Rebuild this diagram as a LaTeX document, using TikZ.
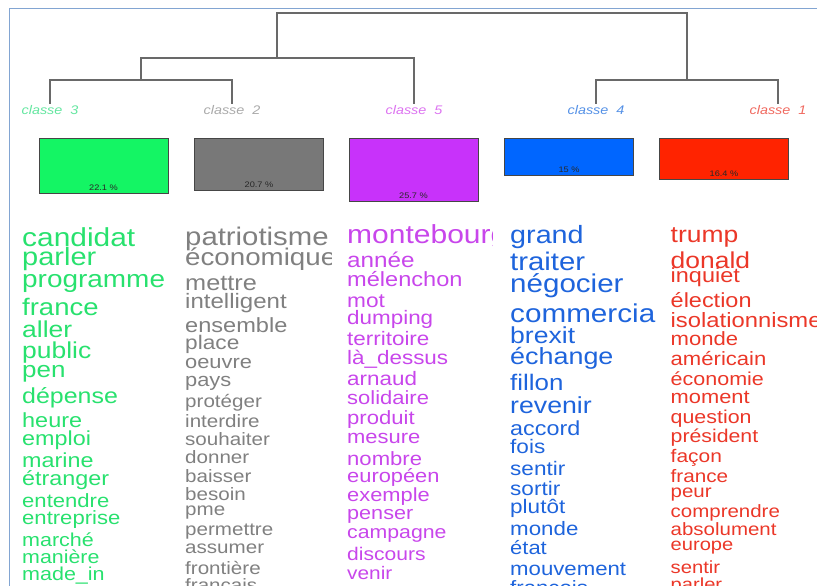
\documentclass[tikz,border=0pt]{standalone}
\usepackage{fontspec}
\setmainfont[FakeStretch=1.15]{Liberation Sans}
\usetikzlibrary{positioning}

\definecolor{frameblue}{RGB}{130,165,210}
\definecolor{treegray}{RGB}{105,105,105}
\definecolor{bardraw}{RGB}{70,70,70}
\definecolor{pcttext}{RGB}{40,40,40}
\definecolor{greenlabel}{RGB}{100,230,160}
\definecolor{graylabel}{RGB}{170,170,170}
\definecolor{purplelabel}{RGB}{220,115,240}
\definecolor{bluelabel}{RGB}{85,145,230}
\definecolor{redlabel}{RGB}{240,105,95}
\definecolor{bargreen}{RGB}{20,245,100}
\definecolor{bargray}{RGB}{120,120,120}
\definecolor{barpurple}{RGB}{200,50,250}
\definecolor{barblue}{RGB}{0,102,255}
\definecolor{barred}{RGB}{255,35,0}
\definecolor{greenword}{RGB}{40,225,110}
\definecolor{grayword}{RGB}{128,128,128}
\definecolor{purpleword}{RGB}{200,70,235}
\definecolor{blueword}{RGB}{30,100,220}
\definecolor{redword}{RGB}{235,55,40}

\tikzset{
  word/.style={anchor=base west,inner sep=0pt,font=\fontsize{#1}{#1}\selectfont},
  classe/.style={anchor=base,inner sep=0pt,outer sep=1pt,font=\fontsize{12.5}{12.5}\selectfont\itshape},
  bar/.style={draw=bardraw,line width=0.8pt,anchor=north,minimum width=129pt,inner sep=0pt},
  pct/.style={inner sep=0pt,text=pcttext,font=\fontsize{8}{8}\selectfont},
  tree/.style={draw=treegray,line width=1.5pt}
}

\begin{document}
\begin{tikzpicture}[x=1pt,y=-1pt]

    \useasboundingbox (0,0) rectangle (817,586);
    \clip (0,0) rectangle (817,586);

    %%frame
    \draw[frameblue,line width=1pt] (9,600) -- (9,8.5) -- (830,8.5);

    %%classes
    \node[classe,text=greenlabel] (c3) at (50,114) {classe\ \ 3};
    \node[classe,text=graylabel] (c2) at (232,114) {classe\ \ 2};
    \node[classe,text=purplelabel] (c5) at (414,114) {classe\ \ 5};
    \node[classe,text=bluelabel] (c4) at (596,114) {classe\ \ 4};
    \node[classe,text=redlabel] (c1) at (778,114) {classe\ \ 1};

    %%tree
    \coordinate (j32) at (141,80);
    \coordinate (j325) at (277,58);
    \coordinate (j41) at (687,80);
    \coordinate (jtop) at (482,13);
    \draw[tree] (c3.north) |- (j32) -| (c2.north);
    \draw[tree] (j32) |- (j325) -| (c5.north);
    \draw[tree] (c4.north) |- (j41) -| (c1.north);
    \draw[tree] (j325) |- (jtop) -| (j41);

    %%bars
    \node[bar,fill=bargreen,minimum height=55pt] (b3) at (103.5,138) {};
    \node[bar,fill=bargray,minimum height=52pt] (b2) at (259,138) {};
    \node[bar,fill=barpurple,minimum height=63pt] (b5) at (413.5,138) {};
    \node[bar,fill=barblue,minimum height=37pt] (b4) at (569,138) {};
    \node[bar,fill=barred,minimum height=41pt] (b1) at (724,138) {};
    \node[pct,above=3pt of b3.south] (p3) {22.1 \%};
    \node[pct,above=3pt of b2.south] (p2) {20.7 \%};
    \node[pct,above=3pt of b5.south] (p5) {25.7 \%};
    \node[pct,above=3pt of b4.south] (p4) {15 \%};
    \node[pct,above=3pt of b1.south] (p1) {16.4 \%};

    %%classe 3
    \begin{scope}[text=greenword]
    \clip (14,200) rectangle (178,600);
    \node[word=26] (g1) at (22,246) {candidat};
    \node[word=25.2] (g2) at (22,265) {parler};
    \node[word=24.3] (g3) at (22,287) {programme};
    \node[word=23.9] (g4) at (22,315) {france};
    \node[word=23] (g5) at (22,337) {aller};
    \node[word=23] (g6) at (22,358) {public};
    \node[word=22.6] (g7) at (22,377) {pen};
    \node[word=21.7] (g8) at (22,403) {dépense};
    \node[word=20.4] (g9) at (22,427) {heure};
    \node[word=20.3] (g10) at (22,445) {emploi};
    \node[word=20.3] (g11) at (22,467) {marine};
    \node[word=20.3] (g12) at (22,485) {étranger};
    \node[word=19.2] (g13) at (22,507) {entendre};
    \node[word=19.2] (g14) at (22,524) {entreprise};
    \node[word=18.7] (g15) at (22,546) {marché};
    \node[word=18.6] (g16) at (22,563) {manière};
    \node[word=18.7] (g17) at (22,580) {made\_in};
    \end{scope}

    %%classe 2
    \begin{scope}[text=grayword]
    \clip (180,200) rectangle (331,600);
    \node[word=25.5] (s1) at (185,245) {patriotisme};
    \node[word=24.1] (s2) at (185,265) {économique};
    \node[word=22] (s3) at (185,290) {mettre};
    \node[word=20.9] (s4) at (185,308) {intelligent};
    \node[word=20.5] (s5) at (185,332) {ensemble};
    \node[word=19.7] (s6) at (185,349) {place};
    \node[word=19] (s7) at (185,368) {oeuvre};
    \node[word=19] (s8) at (185,386) {pays};
    \node[word=17.9] (s9) at (185,407) {protéger};
    \node[word=17.9] (s10) at (185,427) {interdire};
    \node[word=17.9] (s11) at (185,445) {souhaiter};
    \node[word=17.9] (s12) at (185,463) {donner};
    \node[word=17.9] (s13) at (185,482) {baisser};
    \node[word=17.9] (s14) at (185,500) {besoin};
    \node[word=17.9] (s15) at (185,515) {pme};
    \node[word=17.9] (s16) at (185,535) {permettre};
    \node[word=17.9] (s17) at (185,553) {assumer};
    \node[word=17.9] (s18) at (185,574) {frontière};
    \node[word=17.9] (s19) at (185,591) {français};
    \end{scope}

    %%classe 5
    \begin{scope}[text=purpleword]
    \clip (340,200) rectangle (492,600);
    \node[word=26.1] (v1) at (347,243) {montebourg};
    \node[word=21.1] (v2) at (347,267) {année};
    \node[word=20.5] (v3) at (347,286) {mélenchon};
    \node[word=19.7] (v4) at (347,307) {mot};
    \node[word=19.5] (v5) at (347,324) {dumping};
    \node[word=19.5] (v6) at (347,345) {territoire};
    \node[word=19.5] (v7) at (347,364) {là\_dessus};
    \node[word=19.5] (v8) at (347,385) {arnaud};
    \node[word=19.1] (v9) at (347,404) {solidaire};
    \node[word=19.2] (v10) at (347,424) {produit};
    \node[word=19.1] (v11) at (347,443) {mesure};
    \node[word=19.2] (v12) at (347,465) {nombre};
    \node[word=19] (v13) at (347,482) {européen};
    \node[word=19] (v14) at (347,501) {exemple};
    \node[word=18.8] (v15) at (347,519) {penser};
    \node[word=18.5] (v16) at (347,538) {campagne};
    \node[word=18.3] (v17) at (347,560) {discours};
    \node[word=18.1] (v18) at (347,579) {venir};
    \node[word=18.1] (v19) at (347,597) {proposer};
    \end{scope}

    %%classe 4
    \begin{scope}[text=blueword]
    \clip (500,200) rectangle (656,600);
    \node[word=25] (u1) at (510,243) {grand};
    \node[word=25.5] (u2) at (510,270) {traiter};
    \node[word=25.7] (u3) at (510,292) {négocier};
    \node[word=25.8] (u4) at (510,322) {commercial};
    \node[word=23.1] (u5) at (510,343) {brexit};
    \node[word=23.4] (u6) at (510,364) {échange};
    \node[word=22.5] (u7) at (510,390) {fillon};
    \node[word=23.2] (u8) at (510,413) {revenir};
    \node[word=20.3] (u9) at (510,435) {accord};
    \node[word=19.6] (u10) at (510,453) {fois};
    \node[word=19.6] (u11) at (510,475) {sentir};
    \node[word=19.6] (u12) at (510,495) {sortir};
    \node[word=19.6] (u13) at (510,513) {plutôt};
    \node[word=19.4] (u14) at (510,535) {monde};
    \node[word=19.1] (u15) at (510,554) {état};
    \node[word=19.3] (u16) at (510,575) {mouvement};
    \node[word=19.3] (u17) at (510,594) {françois};
    \end{scope}

    %%classe 1
    \begin{scope}[text=redword]
    \clip (660,200) rectangle (817,600);
    \node[word=23] (r1) at (670.5,242) {trump};
    \node[word=23] (r2) at (670.5,268) {donald};
    \node[word=20.4] (r3) at (670.5,282) {inquiet};
    \node[word=20.4] (r4) at (670.5,307) {élection};
    \node[word=20.7] (r5) at (670.5,327) {isolationnisme};
    \node[word=19.2] (r6) at (670.5,345) {monde};
    \node[word=19.2] (r7) at (670.5,365) {américain};
    \node[word=18.7] (r8) at (670.5,385) {économie};
    \node[word=19] (r9) at (670.5,403) {moment};
    \node[word=18.6] (r10) at (670.5,423) {question};
    \node[word=18.5] (r11) at (670.5,442) {président};
    \node[word=18.2] (r12) at (670.5,462) {façon};
    \node[word=18] (r13) at (670.5,482) {france};
    \node[word=17.8] (r14) at (670.5,497) {peur};
    \node[word=17.8] (r15) at (670.5,517) {comprendre};
    \node[word=17.8] (r16) at (670.5,535) {absolument};
    \node[word=17.5] (r17) at (670.5,550) {europe};
    \node[word=17.6] (r18) at (670.5,573) {sentir};
    \node[word=17.5] (r19) at (670.5,590) {parler};
    \end{scope}

\end{tikzpicture}
\end{document}
